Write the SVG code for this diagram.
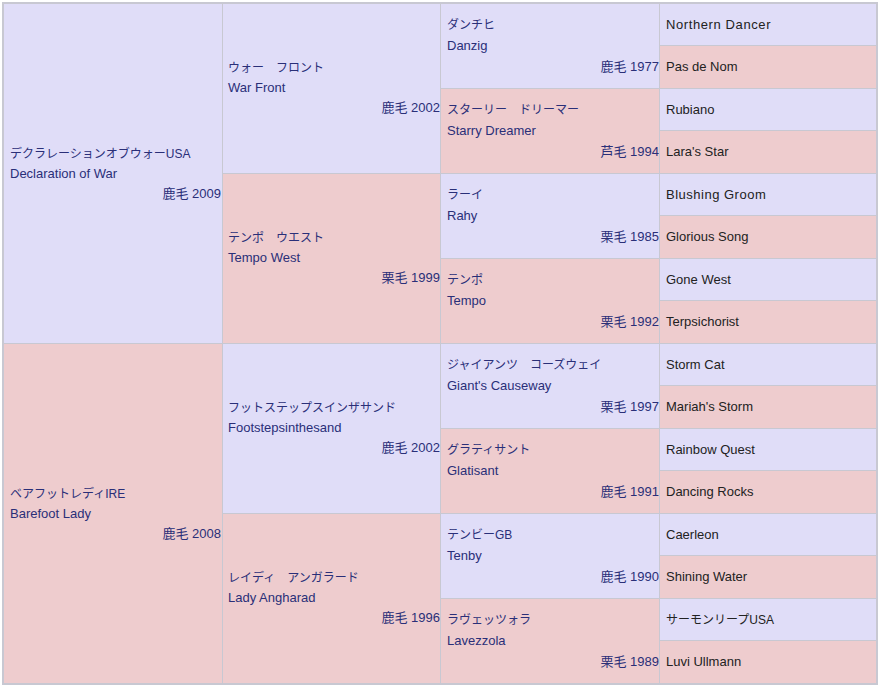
<svg xmlns="http://www.w3.org/2000/svg" width="878" height="686" viewBox="0 0 878 686">
<style>
.m{fill:#e0ddf8;stroke:#c8c8d2;stroke-width:1}
.f{fill:#eeccce;stroke:#c8c8d2;stroke-width:1}
text{font-family:"Liberation Sans","Noto Sans CJK JP",sans-serif;font-size:13px;fill:#2a2f78}
.j{font-size:12px}
.c{text-anchor:end}
.g4{fill:#222222}
</style>
<rect x="0" y="0" width="878" height="686" fill="#ffffff"/>
<rect x="2.5" y="2.5" width="875" height="682" fill="none" stroke="#c8c8d2"/>
<g id="gen1-sire"><rect class="m" x="3.5" y="3.5" width="219" height="340"/><text class="j" x="10" y="158">デクラレーションオブウォーUSA</text><text x="10" y="178">Declaration of War</text><text class="c" x="221" y="198">鹿毛 2009</text></g>
<g id="gen1-dam"><rect class="f" x="3.5" y="343.5" width="219" height="340"/><text class="j" x="10" y="498">ベアフットレディIRE</text><text x="10" y="518">Barefoot Lady</text><text class="c" x="221" y="538">鹿毛 2008</text></g>
<g id="gen2-1"><rect class="m" x="222.5" y="3.5" width="218" height="170"/><text class="j" x="228" y="72">ウォー　フロント</text><text x="228" y="92">War Front</text><text class="c" x="440" y="112">鹿毛 2002</text></g>
<g id="gen2-2"><rect class="f" x="222.5" y="173.5" width="218" height="170"/><text class="j" x="228" y="242">テンポ　ウエスト</text><text x="228" y="262">Tempo West</text><text class="c" x="440" y="282">栗毛 1999</text></g>
<g id="gen2-3"><rect class="m" x="222.5" y="343.5" width="218" height="170"/><text class="j" x="228" y="412">フットステップスインザサンド</text><text x="228" y="432">Footstepsinthesand</text><text class="c" x="440" y="452">鹿毛 2002</text></g>
<g id="gen2-4"><rect class="f" x="222.5" y="513.5" width="218" height="170"/><text class="j" x="228" y="582">レイディ　アンガラード</text><text x="228" y="602">Lady Angharad</text><text class="c" x="440" y="622">鹿毛 1996</text></g>
<g id="gen3-1"><rect class="m" x="440.5" y="3.5" width="219" height="85"/><text class="j" x="447" y="29">ダンチヒ</text><text x="447" y="50">Danzig</text><text class="c" x="659" y="71">鹿毛 1977</text></g>
<g id="gen3-2"><rect class="f" x="440.5" y="88.5" width="219" height="85"/><text class="j" x="447" y="114">スターリー　ドリーマー</text><text x="447" y="135">Starry Dreamer</text><text class="c" x="659" y="156">芦毛 1994</text></g>
<g id="gen3-3"><rect class="m" x="440.5" y="173.5" width="219" height="85"/><text class="j" x="447" y="199">ラーイ</text><text x="447" y="220">Rahy</text><text class="c" x="659" y="241">栗毛 1985</text></g>
<g id="gen3-4"><rect class="f" x="440.5" y="258.5" width="219" height="85"/><text class="j" x="447" y="284">テンポ</text><text x="447" y="305">Tempo</text><text class="c" x="659" y="326">栗毛 1992</text></g>
<g id="gen3-5"><rect class="m" x="440.5" y="343.5" width="219" height="85"/><text class="j" x="447" y="369">ジャイアンツ　コーズウェイ</text><text x="447" y="390">Giant's Causeway</text><text class="c" x="659" y="411">栗毛 1997</text></g>
<g id="gen3-6"><rect class="f" x="440.5" y="428.5" width="219" height="85"/><text class="j" x="447" y="454">グラティサント</text><text x="447" y="475">Glatisant</text><text class="c" x="659" y="496">鹿毛 1991</text></g>
<g id="gen3-7"><rect class="m" x="440.5" y="513.5" width="219" height="85"/><text class="j" x="447" y="539">テンビーGB</text><text x="447" y="560">Tenby</text><text class="c" x="659" y="581">鹿毛 1990</text></g>
<g id="gen3-8"><rect class="f" x="440.5" y="598.5" width="219" height="85"/><text class="j" x="447" y="624">ラヴェッツォラ</text><text x="447" y="645">Lavezzola</text><text class="c" x="659" y="666">栗毛 1989</text></g>
<g id="gen4-1"><rect class="m" x="659.5" y="3.5" width="217" height="42"/><text class="g4" x="666" y="29" letter-spacing="0.6">Northern Dancer</text></g>
<g id="gen4-2"><rect class="f" x="659.5" y="45.5" width="217" height="43"/><text class="g4" x="666" y="71">Pas de Nom</text></g>
<g id="gen4-3"><rect class="m" x="659.5" y="88.5" width="217" height="42"/><text class="g4" x="666" y="114">Rubiano</text></g>
<g id="gen4-4"><rect class="f" x="659.5" y="130.5" width="217" height="43"/><text class="g4" x="666" y="156">Lara's Star</text></g>
<g id="gen4-5"><rect class="m" x="659.5" y="173.5" width="217" height="42"/><text class="g4" x="666" y="199" letter-spacing="0.5">Blushing Groom</text></g>
<g id="gen4-6"><rect class="f" x="659.5" y="215.5" width="217" height="43"/><text class="g4" x="666" y="241">Glorious Song</text></g>
<g id="gen4-7"><rect class="m" x="659.5" y="258.5" width="217" height="42"/><text class="g4" x="666" y="284">Gone West</text></g>
<g id="gen4-8"><rect class="f" x="659.5" y="300.5" width="217" height="43"/><text class="g4" x="666" y="326">Terpsichorist</text></g>
<g id="gen4-9"><rect class="m" x="659.5" y="343.5" width="217" height="42"/><text class="g4" x="666" y="369">Storm Cat</text></g>
<g id="gen4-10"><rect class="f" x="659.5" y="385.5" width="217" height="43"/><text class="g4" x="666" y="411">Mariah's Storm</text></g>
<g id="gen4-11"><rect class="m" x="659.5" y="428.5" width="217" height="42"/><text class="g4" x="666" y="454">Rainbow Quest</text></g>
<g id="gen4-12"><rect class="f" x="659.5" y="470.5" width="217" height="43"/><text class="g4" x="666" y="496">Dancing Rocks</text></g>
<g id="gen4-13"><rect class="m" x="659.5" y="513.5" width="217" height="42"/><text class="g4" x="666" y="539">Caerleon</text></g>
<g id="gen4-14"><rect class="f" x="659.5" y="555.5" width="217" height="43"/><text class="g4" x="666" y="581">Shining Water</text></g>
<g id="gen4-15"><rect class="m" x="659.5" y="598.5" width="217" height="42"/><text class="g4 j" x="666" y="624">サーモンリープUSA</text></g>
<g id="gen4-16"><rect class="f" x="659.5" y="640.5" width="217" height="43"/><text class="g4" x="666" y="666">Luvi Ullmann</text></g>
<g id="connectors"></g>
</svg>
